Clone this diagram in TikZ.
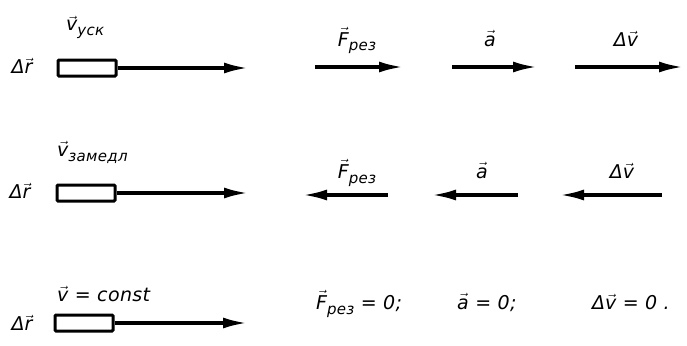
\documentclass[tikz,border=0pt]{standalone}
\usepackage{fontspec}
\setmainfont{DejaVu Sans}[LetterSpace=2]
\usetikzlibrary{arrows.meta}
\tikzset{
  x=1pt, y=-1pt,
  vecarrow/.style={line width=3.2pt, -{Latex[length=24pt,width=11pt]}},
  body/.style={draw, line width=3pt, fill=white, minimum width=58pt, minimum height=16pt, inner sep=0pt, rounded corners=1pt},
  lbl/.style={font=\fontsize{19}{21}\selectfont\itshape, inner sep=0pt},
}
\newcommand\sbs[1]{\raisebox{-5pt}{\fontsize{15}{16}\selectfont #1}}
\newcommand\va[1]{$\vec{\hbox{\itshape #1}}$}
\begin{document}
\begin{tikzpicture}
\useasboundingbox (0,0) rectangle (687,345);
% Row 1: accelerated
\node[lbl] (dr1) at (22,66) {Δ\va{r}};
\node[body] (b1) at (87,68) {};
\coordinate (e1) at (248,68);
\draw[vecarrow] (b1.east) -- (e1);
\node[lbl, anchor=base west] (v1) at (66,31) {\va{v}\sbs{уск}};
\coordinate (f1s) at (315,67); \coordinate (f1e) at (403,67);
\draw[vecarrow] (f1s) -- (f1e);
\node[lbl, anchor=base] (fl1) at (357,46) {\va{F}\sbs{рез}};
\coordinate (a1s) at (452,67); \coordinate (a1e) at (537,67);
\draw[vecarrow] (a1s) -- (a1e);
\node[lbl, anchor=base] (al1) at (490,46) {\va{a}};
\coordinate (d1s) at (575,67); \coordinate (d1e) at (683,67);
\draw[vecarrow] (d1s) -- (d1e);
\node[lbl, anchor=base] (dl1) at (626,46) {Δ\va{v}};
% Row 2: decelerated
\node[lbl] (dr2) at (20,191) {Δ\va{r}};
\node[body] (b2) at (86,193) {};
\coordinate (e2) at (248,193);
\draw[vecarrow] (b2.east) -- (e2);
\node[lbl, anchor=base west] (v2) at (57,156) {\va{v}\sbs{замедл}};
\coordinate (f2s) at (388,195); \coordinate (f2e) at (303,195);
\draw[vecarrow] (f2s) -- (f2e);
\node[lbl, anchor=base] (fl2) at (357,178) {\va{F}\sbs{рез}};
\coordinate (a2s) at (518,195); \coordinate (a2e) at (432,195);
\draw[vecarrow] (a2s) -- (a2e);
\node[lbl, anchor=base] (al2) at (482,178) {\va{a}};
\coordinate (d2s) at (662,195); \coordinate (d2e) at (560,195);
\draw[vecarrow] (d2s) -- (d2e);
\node[lbl, anchor=base] (dl2) at (622,178) {Δ\va{v}};
% Row 3: uniform
\node[lbl] (dr3) at (22,323) {Δ\va{r}};
\node[body] (b3) at (84,323) {};
\coordinate (e3) at (247,323);
\draw[vecarrow] (b3.east) -- (e3);
\node[lbl, anchor=base west] (v3) at (57,301) {\va{v} = const};
\node[lbl, anchor=base west] (fl3) at (316,309) {\va{F}\sbs{рез} = 0;};
\node[lbl, anchor=base west] (al3) at (457,309) {\va{a} = 0;};
\node[lbl, anchor=base west] (dl3) at (592,309) {Δ\va{v} = 0 .};
\end{tikzpicture}
\end{document}
